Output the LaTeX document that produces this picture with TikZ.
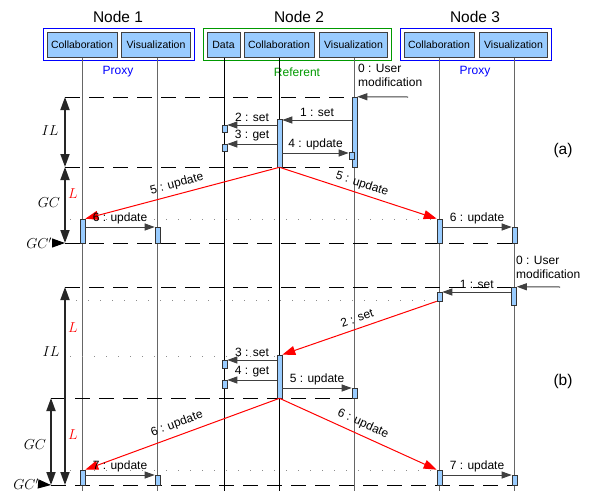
\documentclass[tikz,border=0pt]{standalone}
\usepackage{fontspec}
\setmainfont{Liberation Sans}
\usetikzlibrary{arrows.meta,fit}
\definecolor{barblue}{HTML}{99CCFF}
\definecolor{refgreen}{HTML}{009900}
\begin{document}
\begin{tikzpicture}[x=1pt,y=-1pt,
  hdr/.style={draw=black!75,line width=1pt,fill=barblue,minimum height=25pt,inner sep=0pt,font=\fontsize{10.5}{12}\selectfont},
  grp/.style={line width=1pt,inner sep=3pt},
  bar/.style={draw=black!80,line width=0.6pt,fill=barblue,minimum width=5pt,inner sep=0pt},
  life/.style={draw=black!60,line width=1pt},
  lifeb/.style={draw=black,line width=0.9pt},
  msg/.style={draw=black!75,line width=1pt,-{Triangle[length=10pt,width=7pt]}},
  rmsg/.style={draw=red,line width=1pt,-{Triangle[length=13pt,width=9pt]}},
  lbl/.style={font=\fontsize{12}{14}\selectfont,inner sep=1pt},
  ttl/.style={font=\fontsize{15.5}{18}\selectfont},
  dsh/.style={line width=1pt,dash pattern=on 15pt off 9pt},
  dotl/.style={draw=black!45,line width=1pt,dash pattern=on 1pt off 11pt},
  dimarr/.style={draw=black!85,line width=1.8pt,{Triangle[length=13pt,width=9pt]}-{Triangle[length=13pt,width=9pt]}},
  ptr/.style={draw=black,line width=1pt,-{Triangle[length=13pt,width=9pt]}},
  mth/.style={font=\fontsize{14.5}{17}\selectfont,inner sep=0pt},
]
\useasboundingbox (0,0) rectangle (595,491);

% ---------- titles ----------
\node[ttl] (t1) at (118,17) {Node 1};
\node[ttl] (t2) at (299,17) {Node 2};
\node[ttl] (t3) at (475,17) {Node 3};

% ---------- headers ----------
\node[hdr,minimum width=70pt] (h1c) at (82,44.5) {Collaboration};
\node[hdr,minimum width=69pt] (h1v) at (156,44.5) {Visualization};
\node[hdr,minimum width=33pt] (h2d) at (223.5,44.5) {Data};
\node[hdr,minimum width=70pt] (h2c) at (279,44.5) {Collaboration};
\node[hdr,minimum width=68pt] (h2v) at (353.5,44.5) {Visualization};
\node[hdr,minimum width=70pt] (h3c) at (439,44.5) {Collaboration};
\node[hdr,minimum width=68pt] (h3v) at (513.5,44.5) {Visualization};
\node[grp,draw=blue,fit=(h1c)(h1v)] (g1) {};
\node[grp,draw=refgreen,fit=(h2d)(h2v)] (g2) {};
\node[grp,draw=blue,fit=(h3c)(h3v)] (g3) {};

\node[lbl,text=blue] (p1) at (118,72) {Proxy};
\node[lbl,text=refgreen] (p2) at (297,72) {Referent};
\node[lbl,text=blue] (p3) at (475,72) {Proxy};

% ---------- lifelines ----------
\draw[life] (h1c.south) -- (h1c.south |- 0,491);
\draw[life] (h1v.south -| 157,0) -- (157,491);
\draw[lifeb] (h2d.south -| 224,0) -- (224,491);
\draw[lifeb] (h2c.south) -- (h2c.south |- 0,491);
\draw[life] (h2v.south -| 354,0) -- (354,491);
\draw[life] (h3c.south) -- (h3c.south |- 0,491);
\draw[life] (h3v.south -| 514,0) -- (514,491);

% ---------- separators (a) ----------
\draw[dsh] (65,97) -- (352,97);
\draw[dsh] (65,167) -- (357,167);
\draw[dotl] (70,219) -- (436,219);
\draw[dsh] (65,243) -- (517,243);
% ---------- separators (b) ----------
\draw[dsh] (65,287) -- (512,287);
\draw[dotl] (76,300) -- (436,300);
\draw[dotl] (70,356) -- (276,356);
\draw[dsh] (51,398) -- (357,398);
\draw[dotl] (70,470) -- (436,470);
\draw[dsh] (51,485) -- (517,485);

% ---------- activation bars (a) ----------
\node[bar,minimum height=70pt] (vA) at (354.5,132) {};
\node[bar,minimum height=7pt] (vA2) at (351.5,156) {};
\node[bar,minimum height=48pt] (cA) at (279.5,143) {};
\node[bar,minimum height=7pt] (dA1) at (224.5,128.5) {};
\node[bar,minimum height=7pt] (dA2) at (224.5,147.5) {};
\node[bar,minimum height=24pt] (pA) at (82.5,231) {};
\node[bar,minimum height=16pt] (qA) at (157.5,235) {};
\node[bar,minimum height=24pt] (rA) at (439.5,231) {};
\node[bar,minimum height=16pt] (sA) at (514.5,235) {};

% ---------- activation bars (b) ----------
\node[bar,minimum height=18pt] (sB) at (514,296) {};
\node[bar,minimum height=9pt] (rB) at (439.5,296.5) {};
\node[bar,minimum height=43pt] (cB) at (279.5,376.5) {};
\node[bar,minimum height=8pt] (dB1) at (224.5,364) {};
\node[bar,minimum height=8pt] (dB2) at (224.5,384) {};
\node[bar,minimum height=10pt] (vB) at (354.5,393) {};
\node[bar,minimum height=15pt] (pB) at (82.5,477.5) {};
\node[bar,minimum height=10pt] (qB) at (157.5,480) {};
\node[bar,minimum height=15pt] (rB2) at (439.5,477.5) {};
\node[bar,minimum height=10pt] (sB2) at (514.5,480) {};

% ---------- messages (a) ----------
\node[lbl,anchor=north west,align=left] (uA) at (357,63) {0 : User\\modification};
\coordinate (uAs) at (408,97);
\draw[msg] (uAs) -- (vA.north east);
\draw[msg] (vA.west |- 0,120) -- node[lbl,above=2pt] (m1a) {1 : set} (cA.east |- 0,120);
\draw[msg] (cA.west |- 0,125) -- node[lbl,above=2pt] (m2a) {2 : set} (dA1.east |- 0,125);
\draw[msg] (cA.west |- 0,144) -- node[lbl,above=2pt] (m3a) {3 : get} (dA2.east |- 0,144);
\draw[msg] (cA.east |- 0,153) -- node[lbl,above=2pt] (m4a) {4 : update} (vA2.west |- 0,153);
\draw[rmsg] (cA.south) -- (pA.north east);
\draw[rmsg] (cA.south) -- (rA.north west);
\node[lbl,rotate=15] (m5a) at (177,184) {5 : update};
\node[lbl,rotate=-18] (m5b) at (362,184) {5 : update};
\draw[msg] (pA.east |- 0,227) -- node[lbl,above=2pt] (m6a) {6 : update} (qA.west |- 0,227);
\draw[msg] (rA.east |- 0,227) -- node[lbl,above=2pt] (m6b) {6 : update} (sA.west |- 0,227);

% ---------- messages (b) ----------
\node[lbl,anchor=north west,align=left] (uB) at (515,255) {0 : User\\modification};
\coordinate (uBs) at (560,287);
\draw[msg] (uBs) -- (sB.north east);
\draw[msg] (sB.west |- 0,292) -- node[lbl,above=2pt] (n1) {1 : set} (rB.east |- 0,292);
\draw[rmsg] (rB.south west) -- (cB.north east);
\node[lbl,rotate=19] (n2) at (357,318) {2 : set};
\draw[msg] (cB.west |- 0,360) -- node[lbl,above=2pt] (n3) {3 : set} (dB1.east |- 0,360);
\draw[msg] (cB.west |- 0,380) -- node[lbl,above=2pt] (n4) {4 : get} (dB2.east |- 0,380);
\draw[msg] (cB.east |- 0,388) -- node[lbl,above=2pt] (n5) {5 : update} (vB.west |- 0,388);
\draw[rmsg] (cB.south) -- (pB.north east);
\draw[rmsg] (cB.south) -- (rB2.north west);
\node[lbl,rotate=20.4] (n6a) at (177,424) {6 : update};
\node[lbl,rotate=-24.5] (n6b) at (363,424) {6 : update};
\draw[msg] (pB.east |- 0,475) -- node[lbl,above=2pt] (n7a) {7 : update} (qB.west |- 0,475);
\draw[msg] (rB2.east |- 0,475) -- node[lbl,above=2pt] (n7b) {7 : update} (sB2.west |- 0,475);

% ---------- left dimension marks (a) ----------
\coordinate (a0) at (65,97);
\coordinate (a1) at (65,167);
\coordinate (a2) at (65,243);
\draw[dimarr] (a0) -- (a1);
\draw[dimarr] (a1) -- (a2);
\node[mth] (ilA) at (50,131) {$IL$};
\node[mth] (gcA) at (49,203) {$GC$};
\node[mth,text=red] (lA) at (73,194) {$L$};
\node[mth,anchor=east] (gcpA) at (52,243) {$GC'$};
\draw[ptr] (gcpA.east) -- (a2);

% ---------- left dimension marks (b) ----------
\coordinate (b0) at (65,287);
\coordinate (b1) at (65,485);
\coordinate (c0) at (51,398);
\coordinate (c1) at (51,485);
\draw[dimarr] (b0) -- (b1);
\draw[dimarr] (c0) -- (c1);
\node[mth,text=red] (lB1) at (73,328) {$L$};
\node[mth] (ilB) at (51,352) {$IL$};
\node[mth,text=red] (lB2) at (73,435) {$L$};
\node[mth] (gcB) at (35,445) {$GC$};
\node[mth,anchor=east] (gcpB) at (39,484) {$GC'$};
\draw[ptr] (gcpB.east) -- (c1);

% ---------- panel labels ----------
\node[ttl] (pa) at (563,150) {(a)};
\node[ttl] (pb) at (563,381) {(b)};
\end{tikzpicture}
\end{document}
